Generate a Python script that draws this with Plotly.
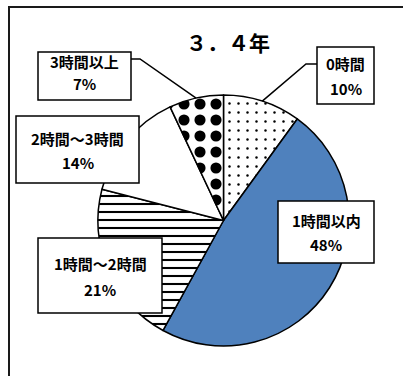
import math
import plotly.graph_objects as go

# Study time per day, grades 3-4
categories = ["0時間", "1時間以内", "1時間～2時間", "2時間～3時間", "3時間以上"]
percent = [10, 48, 21, 14, 7]
pct_labels = ["10%", "48%", "21%", "14%", "7%"]

W, H = 403, 376
FONT = "Noto Sans CJK JP"

# pie placement in pixels
CX, CY, R = 223.5, 220.5, 125.5


def px(x):
    return x / W


def py(y):
    return 1 - y / H


fills = ["white", "#4F81BD", "white", "white", "white"]
pattern_shape = [".", "", "-", "", "."]
pattern_size = [9, 8, 8, 8, 16]
pattern_solid = [0.06, 0.3, 0.26, 0.3, 0.38]

fig = go.Figure(
    go.Pie(
        labels=categories,
        values=percent,
        sort=False,
        direction="clockwise",
        rotation=0,
        textinfo="none",
        hoverinfo="label+percent",
        showlegend=False,
        marker=dict(
            colors=fills,
            line=dict(color="black", width=1.5),
            pattern=dict(
                shape=pattern_shape,
                size=pattern_size,
                solidity=pattern_solid,
                fgcolor="black",
                bgcolor=fills,
                fillmode="replace",
            ),
        ),
        domain=dict(x=[px(CX - R), px(CX + R)], y=[py(CY + R), py(CY - R)]),
    )
)

# label boxes: (left, top, right, bottom), first-line y, second-line y
boxes = {
    "0時間": ((317, 47, 374, 104), 63, 89),
    "1時間以内": ((278, 201, 374, 263), 220, 245),
    "1時間～2時間": ((38, 238, 162, 313), 263, 289),
    "2時間～3時間": ((16, 116, 139, 183), 138, 162),
    "3時間以上": ((38, 52, 131, 100), 62, 84),
}

shapes = []
annotations = []

# leader lines: start at box edge, short horizontal run, then to slice mid-arc
total = sum(percent)
cum = 0
mid_angle = {}
for cat, v in zip(categories, percent):
    mid_angle[cat] = (cum + v / 2) / total * 360
    cum += v

leaders = {"3時間以上": ((131, 59), (140, 59)), "0時間": ((317, 64), (306, 64))}
for cat, (p0, p1) in leaders.items():
    a = math.radians(mid_angle[cat])
    ex, ey = CX + R * math.sin(a), CY - R * math.cos(a)
    shapes.append(dict(
        type="path", xref="paper", yref="paper",
        path=f"M {px(p0[0])} {py(p0[1])} L {px(p1[0])} {py(p1[1])} L {px(ex)} {py(ey)}",
        line=dict(color="black", width=1.5), layer="above",
    ))

for cat, lab in zip(categories, pct_labels):
    (l, t, r, b), y1, y2 = boxes[cat]
    shapes.append(dict(
        type="rect", xref="paper", yref="paper",
        x0=px(l), x1=px(r), y0=py(b), y1=py(t),
        line=dict(color="black", width=1.5), fillcolor="white", layer="above",
    ))
    xc = (l + r) / 2
    for txt, yy in ((cat, y1), (lab, y2)):
        annotations.append(dict(
            text=txt, x=px(xc), y=py(yy), xref="paper", yref="paper",
            xanchor="center", yanchor="middle", showarrow=False,
            font=dict(family=FONT, size=15, color="black", weight="bold"),
        ))

# chart title
annotations.append(dict(
    text="３．４年", x=px(228), y=py(42), xref="paper", yref="paper",
    xanchor="center", yanchor="middle", showarrow=False,
    font=dict(family=FONT, size=21, color="black", weight="bold"),
))

# outer frame (only its top and left edges fall inside the image)
shapes.append(dict(
    type="path", xref="paper", yref="paper",
    path=f"M {px(9)} 0 L {px(9)} {py(7)} L 1 {py(7)}",
    line=dict(color="#1a1a1a", width=2), layer="above",
))

fig.update_layout(
    width=W, height=H,
    margin=dict(l=0, r=0, t=0, b=0),
    paper_bgcolor="white", plot_bgcolor="white",
    shapes=shapes, annotations=annotations,
)

fig.write_html("out.html", config={"displayModeBar": False})
